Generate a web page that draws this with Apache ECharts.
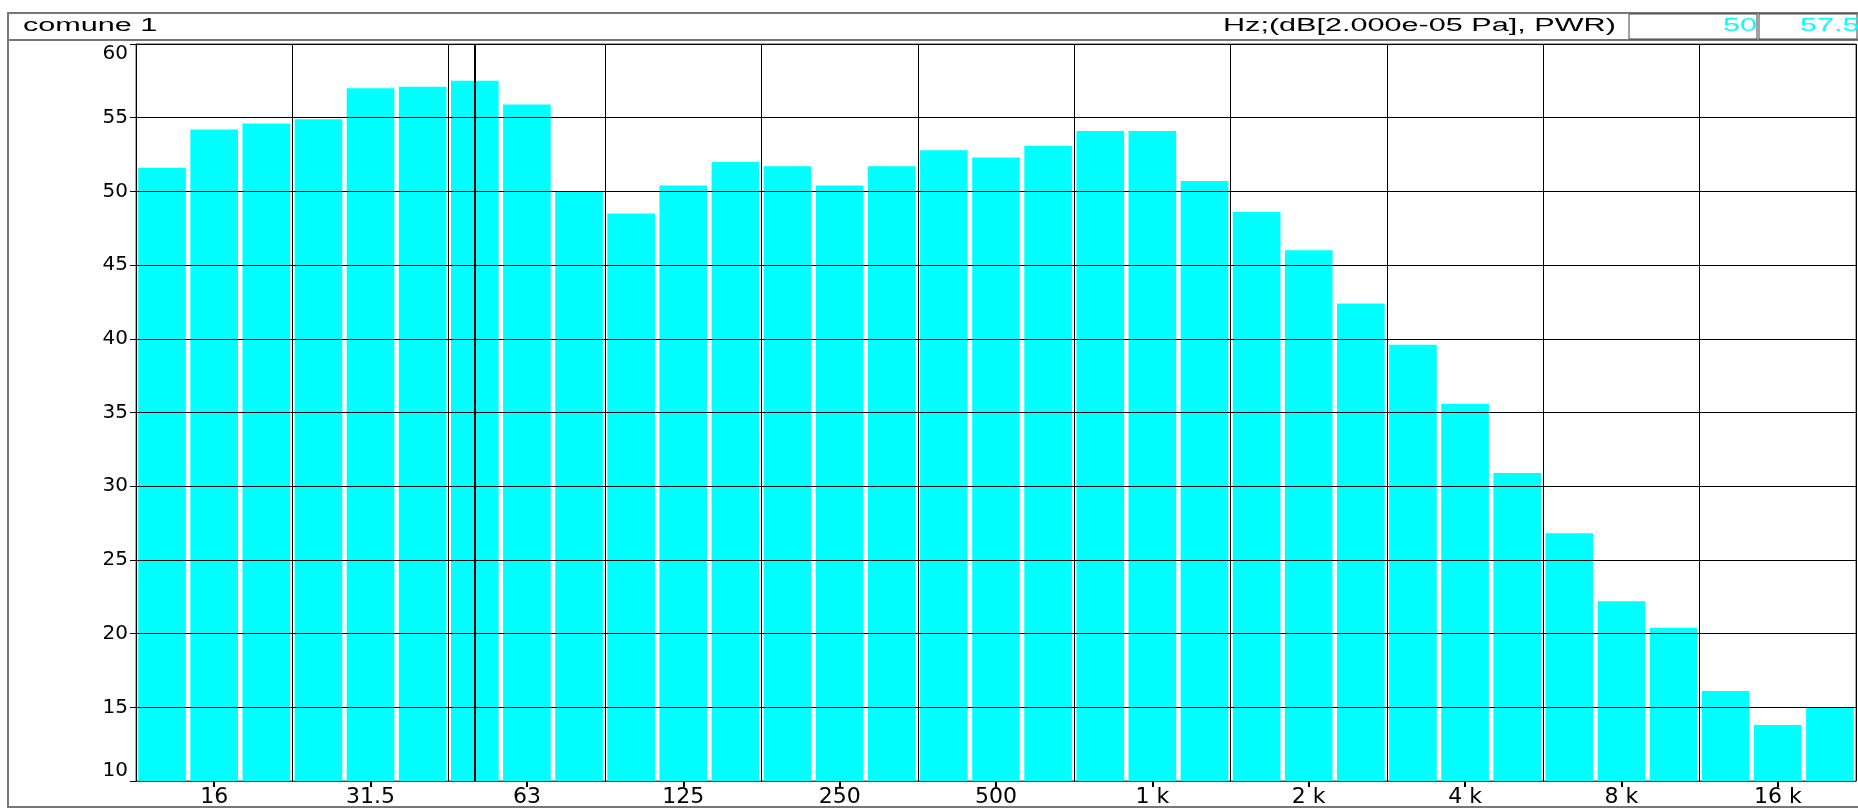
<!DOCTYPE html>
<html><head><meta charset="utf-8">
<script src="https://cdn.jsdelivr.net/npm/echarts@6/dist/echarts.min.js"></script>
<style>html,body{margin:0;padding:0;background:#fff}#c{width:1858px;height:808px}</style>
</head><body><div id="c"></div>
<script>
// 1/3-octave band centre frequencies (Hz)
const bands = ['12.5','16','20','25','31.5','40','50','63','80','100','125','160','200','250','315','400','500','630','800','1 k','1.25 k','1.6 k','2 k','2.5 k','3.15 k','4 k','5 k','6.3 k','8 k','10 k','12.5 k','16 k','20 k'];
// levels in dB
const levels = [51.6,54.2,54.6,54.9,57.0,57.1,57.5,55.9,50.0,48.5,50.4,52.0,51.7,50.4,51.7,52.8,52.3,53.1,54.1,54.1,50.7,48.6,46.0,42.4,39.6,35.6,30.9,26.8,22.2,20.4,16.1,13.8,15.0];
// y-axis tick labels
const yTicks = [10,15,20,25,30,35,40,45,50,55,60];
const headerTitle = 'comune 1';
const unitsText = 'Hz;(dB[2.000e-05 Pa], PWR)';
const cursorBand = '50';
const cursorValue = '57.5';

const chart = echarts.init(document.getElementById('c'), null, {renderer:'canvas'});
const HF = '18px "Liberation Sans", Arial, sans-serif';
chart.setOption({
  animation:false,
  backgroundColor:'#fff',
  grid:{left:136,right:2,top:44,bottom:27,show:true,borderColor:'#555',borderWidth:1},
  xAxis:{
    type:'category', data:bands, z:5,
    axisLine:{show:true,lineStyle:{color:'#444',width:1}},
    axisTick:{show:true,alignWithLabel:true,length:6,lineStyle:{color:'#000',width:2},interval:(i)=>i%3===1},
    axisLabel:{interval:(i)=>i%3===1,color:'#000',fontFamily:'DejaVu Sans',fontSize:22,margin:5},
    splitLine:{show:true,interval:(i)=>i%3===0,lineStyle:{color:'#000',width:1}}
  },
  yAxis:{
    type:'value', min:yTicks[0], max:yTicks[yTicks.length-1], interval:yTicks[1]-yTicks[0], z:5,
    axisLine:{show:true,lineStyle:{color:'#000',width:1}},
    axisTick:{show:true,length:6,lineStyle:{color:'#000',width:1}},
    axisLabel:{color:'#000',fontFamily:'DejaVu Sans',fontSize:20,margin:8,
      verticalAlignMaxLabel:'top',verticalAlignMinLabel:'bottom'},
    splitLine:{show:true,lineStyle:{color:'#000',width:1}}
  },
  series:[{
    type:'bar', data:levels, barCategoryGap:'8.6%', z:2,
    itemStyle:{color:'#00FFFF'},
    markLine:{silent:true,symbol:['none','none'],label:{show:false},
      lineStyle:{color:'#000',width:2,type:'solid'},
      data:[{xAxis:cursorBand}]}
  }],
  graphic:[
    {type:'rect',z:20,shape:{x:8,y:13,width:1860,height:794},style:{fill:null,stroke:'#777',lineWidth:2},silent:true},
    {type:'line',z:20,shape:{x1:8,y1:40,x2:1858,y2:40},style:{stroke:'#777',lineWidth:2}},
    {type:'text',z:21,x:23,y:26,scaleX:1.7,style:{text:headerTitle,font:HF,fill:'#000',verticalAlign:'middle',textVerticalAlign:'middle'}},
    {type:'text',z:21,x:1223,y:26,scaleX:1.7,style:{text:unitsText,font:HF,fill:'#000',verticalAlign:'middle',textVerticalAlign:'middle'}},
    {type:'rect',z:20,shape:{x:1629,y:14,width:128,height:25},style:{fill:'#fff',stroke:'#444',lineWidth:1}},
    {type:'rect',z:20,shape:{x:1759,y:14,width:98,height:25},style:{fill:'#fff',stroke:'#444',lineWidth:1}},
    {type:'text',z:21,x:1757,y:26,scaleX:1.7,style:{text:cursorBand,font:HF,fill:'#00FFFF',align:'right',textAlign:'right',verticalAlign:'middle',textVerticalAlign:'middle'}},
    {type:'text',z:21,x:1800,y:26,scaleX:1.7,style:{text:cursorValue,font:HF,fill:'#00FFFF',verticalAlign:'middle',textVerticalAlign:'middle'}}
  ]
});
</script></body></html>
